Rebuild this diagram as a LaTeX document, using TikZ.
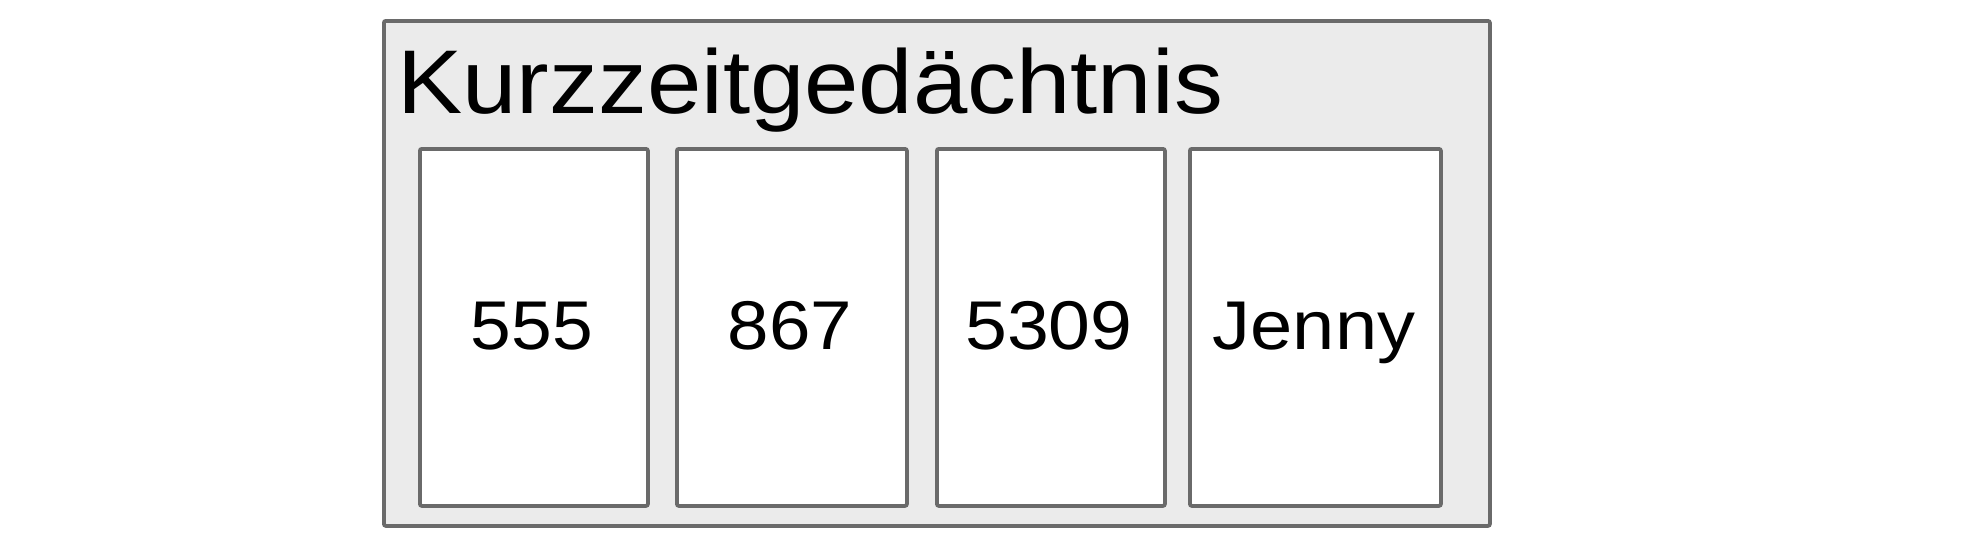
\documentclass[tikz,border=0pt]{standalone}
\usepackage{fontspec}
\usepackage{graphicx}
\setmainfont{Liberation Sans}
\definecolor{framegray}{HTML}{6A6A6A}
\definecolor{panelgray}{HTML}{EBEBEB}
\tikzset{
  panel/.style={draw=framegray, fill=panelgray, line width=3.8pt, rounded corners=2pt, anchor=north west, inner sep=0pt},
  cell/.style={draw=framegray, fill=white, line width=3.8pt, rounded corners=2pt, anchor=north west, inner sep=0pt},
  titletext/.style={anchor=base west, inner sep=0pt, font=\fontsize{90.5}{90.5}\selectfont},
  celltext/.style={anchor=base, inner sep=0pt, font=\fontsize{69}{69}\selectfont}
}
\begin{document}
\begin{tikzpicture}[x=1pt,y=-1pt]
\useasboundingbox (0,0) rectangle (1968,544);
\node[panel, minimum width=1106pt, minimum height=505pt] (outer) at (382,19) {};
\node[titletext] (title) at (397,113) {\scalebox{1.08}[1]{Kurzzeitgedächtnis}};
\node[cell, minimum width=228pt, minimum height=357pt] (c1) at (418,147) {};
\node[cell, minimum width=230pt, minimum height=357pt] (c2) at (675,147) {};
\node[cell, minimum width=228pt, minimum height=357pt] (c3) at (935,147) {};
\node[cell, minimum width=251pt, minimum height=357pt] (c4) at (1188,147) {};
\node[celltext] (t1) at (532,349) {\scalebox{1.06}[1]{555}};
\node[celltext] (t2) at (790,349) {\scalebox{1.08}[1]{867}};
\node[celltext] (t3) at (1049,349) {\scalebox{1.09}[1]{5309}};
\node[celltext] (t4) at (1314,349) {\scalebox{1.1}[1]{Jenny}};
\end{tikzpicture}
\end{document}
